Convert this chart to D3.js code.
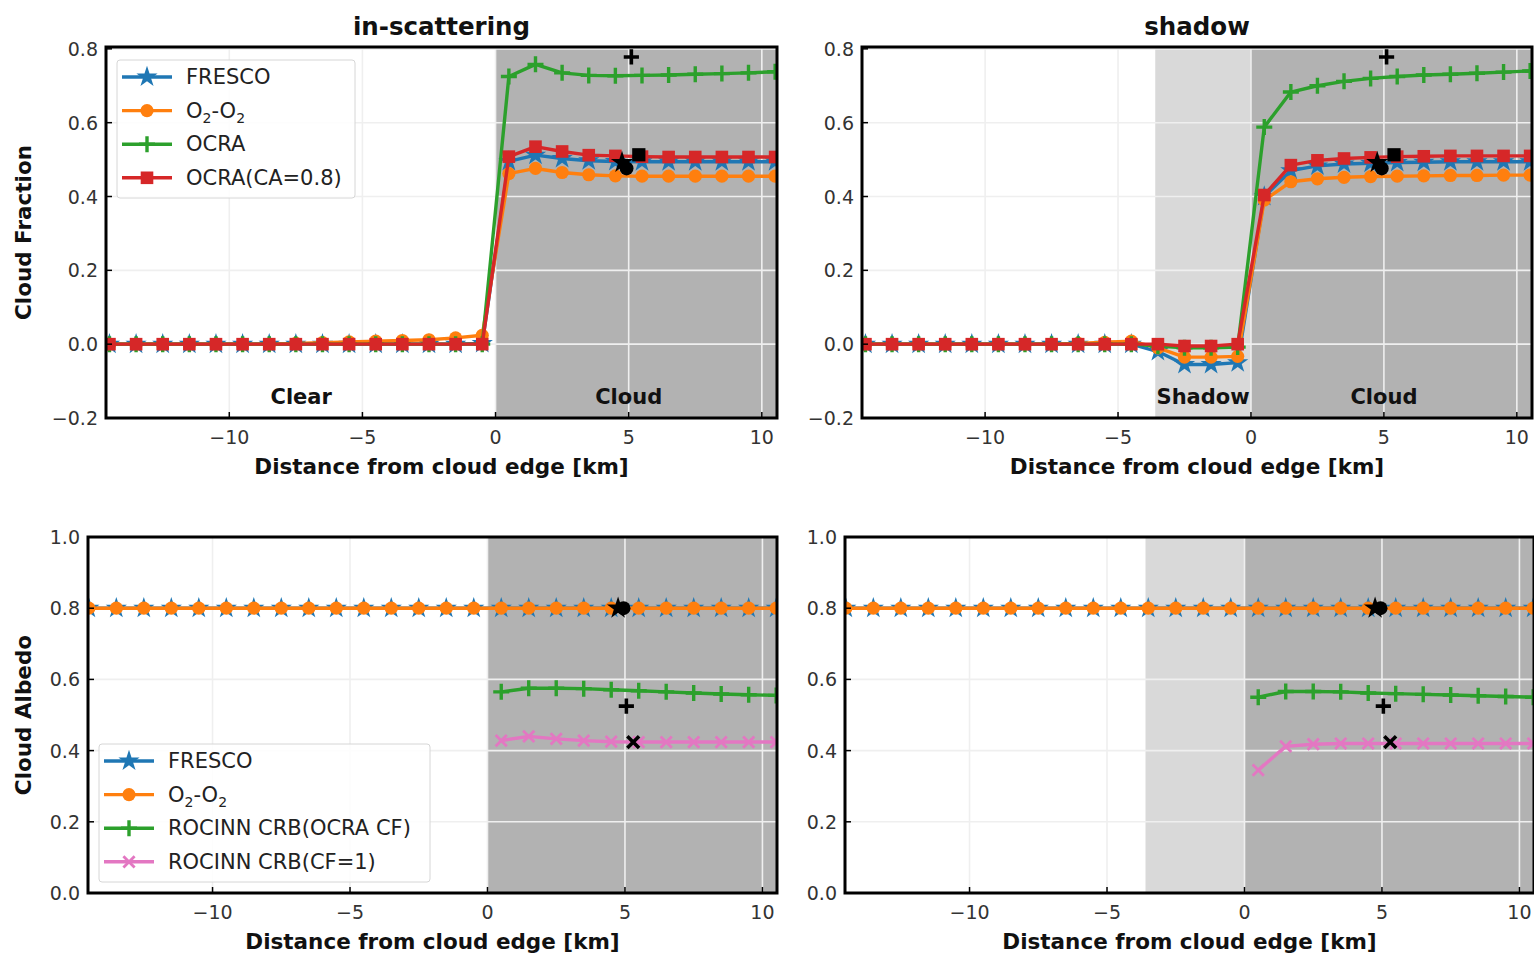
<!DOCTYPE html>
<html>
<head>
<meta charset="utf-8">
<script src="https://cdn.jsdelivr.net/npm/d3@7"></script>
<style>
  body { margin: 0; background: #fff; }
  svg { display: block; }
  text { font-family: "DejaVu Sans", "Liberation Sans", sans-serif; }
</style>
</head>
<body>
<svg id="fig" width="1534" height="953"></svg>
<script>
// ---- along-track sample positions (km from the cloud edge) ----
const distanceKm = [-14.5, -13.5, -12.5, -11.5, -10.5, -9.5, -8.5, -7.5, -6.5, -5.5, -4.5, -3.5, -2.5, -1.5, -0.5,
                    0.5, 1.5, 2.5, 3.5, 4.5, 5.5, 6.5, 7.5, 8.5, 9.5, 10.5];

const xTicks = [-10, -5, 0, 5, 10];
const cfTicks = [-0.2, 0.0, 0.2, 0.4, 0.6, 0.8];
const caTicks = [0.0, 0.2, 0.4, 0.6, 0.8, 1.0];

// region boundaries (km)
const cloudEdgeKm = 0;
const shadowStartKm = -3.6;

// ---- cloud fraction, in-scattering case ----
const frescoCfIn = [0, 0, 0, 0, 0, 0, 0, 0, 0, 0, 0, 0, 0, 0, 0.002,
                    0.495, 0.512, 0.503, 0.497, 0.495, 0.494, 0.494, 0.494, 0.494, 0.494, 0.494];
const o2o2CfIn   = [0, 0, 0, 0, 0, 0, 0, 0.002, 0.004, 0.006, 0.008, 0.01, 0.012, 0.017, 0.024,
                    0.462, 0.476, 0.465, 0.459, 0.456, 0.455, 0.455, 0.455, 0.455, 0.455, 0.455];
const ocraCfIn   = [0, 0, 0, 0, 0, 0, 0, 0, 0, 0, 0, 0, 0, 0, 0,
                    0.725, 0.758, 0.735, 0.728, 0.727, 0.728, 0.729, 0.731, 0.733, 0.735, 0.738];
const ocraCaCfIn = [0, 0, 0, 0, 0, 0, 0, 0, 0, 0, 0, 0, 0, 0, 0,
                    0.508, 0.535, 0.522, 0.512, 0.510, 0.508, 0.507, 0.507, 0.507, 0.507, 0.507];

// ---- cloud fraction, shadow case ----
const frescoCfSh = [0, 0, 0, 0, 0, 0, 0, 0, 0, 0, 0, -0.02, -0.055, -0.055, -0.05,
                    0.40, 0.47, 0.483, 0.488, 0.490, 0.492, 0.493, 0.494, 0.494, 0.494, 0.494];
const o2o2CfSh   = [0, 0, 0, 0, 0, 0, 0, 0, 0.002, 0.005, 0.008, -0.01, -0.035, -0.035, -0.033,
                    0.39, 0.44, 0.448, 0.452, 0.454, 0.455, 0.456, 0.457, 0.457, 0.458, 0.458];
const ocraCfSh   = [0, 0, 0, 0, 0, 0, 0, 0, 0, 0, 0, -0.005, -0.01, -0.01, -0.008,
                    0.588, 0.683, 0.700, 0.712, 0.720, 0.725, 0.729, 0.731, 0.734, 0.737, 0.740];
const ocraCaCfSh = [0, 0, 0, 0, 0, 0, 0, 0, 0, 0, 0, 0, -0.005, -0.005, 0,
                    0.404, 0.485, 0.498, 0.503, 0.506, 0.508, 0.509, 0.510, 0.510, 0.510, 0.510];

// ---- cloud albedo (FRESCO and O2-O2 share the fixed 0.8) ----
const frescoCa = [0.8, 0.8, 0.8, 0.8, 0.8, 0.8, 0.8, 0.8, 0.8, 0.8, 0.8, 0.8, 0.8, 0.8, 0.8,
                  0.8, 0.8, 0.8, 0.8, 0.8, 0.8, 0.8, 0.8, 0.8, 0.8, 0.8];
const o2o2Ca   = [0.8, 0.8, 0.8, 0.8, 0.8, 0.8, 0.8, 0.8, 0.8, 0.8, 0.8, 0.8, 0.8, 0.8, 0.8,
                  0.8, 0.8, 0.8, 0.8, 0.8, 0.8, 0.8, 0.8, 0.8, 0.8, 0.8];
const rocinnOcraCaIn = [null, null, null, null, null, null, null, null, null, null, null, null, null, null, null,
                        0.565, 0.575, 0.575, 0.574, 0.571, 0.568, 0.565, 0.562, 0.559, 0.557, 0.555];
const rocinnCf1CaIn  = [null, null, null, null, null, null, null, null, null, null, null, null, null, null, null,
                        0.428, 0.440, 0.433, 0.428, 0.425, 0.424, 0.424, 0.424, 0.424, 0.424, 0.424];
const rocinnOcraCaSh = [null, null, null, null, null, null, null, null, null, null, null, null, null, null, null,
                        0.550, 0.566, 0.566, 0.565, 0.562, 0.560, 0.558, 0.556, 0.554, 0.552, 0.550];
const rocinnCf1CaSh  = [null, null, null, null, null, null, null, null, null, null, null, null, null, null, null,
                        0.345, 0.412, 0.418, 0.420, 0.420, 0.420, 0.420, 0.420, 0.420, 0.420, 0.420];

// ---- reference (true) values, drawn in black ----
const refCf = [
  { marker: "plus",   x: 5.1,  y: 0.778 },
  { marker: "square", x: 5.38, y: 0.513 },
  { marker: "star",   x: 4.75, y: 0.492 },
  { marker: "circle", x: 4.92, y: 0.476 }
];
const refCa = [
  { marker: "star",   x: 4.75, y: 0.8 },
  { marker: "circle", x: 4.95, y: 0.8 },
  { marker: "plus",   x: 5.05, y: 0.525 },
  { marker: "cross",  x: 5.3,  y: 0.424 }
];

const colors = { fresco: "#1f77b4", o2o2: "#ff7f0e", ocra: "#2ca02c", ocraCa: "#d62728", rocinnCf1: "#e377c2" };
const cloudFill = "#b2b2b2";
const shadowFill = "#d9d9d9";
const gridColor = "#efefef";

const svg = d3.select("#fig");

// marker painter
function drawMarker(g, type, color, scale = 1, extra = {}) {
  const s = scale;
  if (type === "star") {
    g.append("path").attr("d", d3.symbol(d3.symbolStar, 140 * s * s)()).attr("fill", color);
  } else if (type === "circle") {
    g.append("circle").attr("r", 6.6 * s).attr("fill", color);
  } else if (type === "square") {
    g.append("rect").attr("x", -6.3 * s).attr("y", -6.3 * s).attr("width", 12.6 * s).attr("height", 12.6 * s).attr("fill", color);
  } else if (type === "plus") {
    const r = 8 * s;
    g.append("path").attr("d", `M${-r},0H${r}M0,${-r}V${r}`).attr("stroke", color).attr("stroke-width", extra.sw || 3.4).attr("fill", "none");
  } else if (type === "cross") {
    const r = 5.6 * s;
    g.append("path").attr("d", `M${-r},${-r}L${r},${r}M${-r},${r}L${r},${-r}`).attr("stroke", color).attr("stroke-width", extra.sw || 2.8).attr("fill", "none");
  }
}

// label with subscripts for O2-O2
function setLabel(textSel, label) {
  if (label === "O2-O2") {
    textSel.append("tspan").text("O");
    textSel.append("tspan").text("2").attr("font-size", "14px").attr("dy", 5);
    textSel.append("tspan").text("-O").attr("dy", -5);
    textSel.append("tspan").text("2").attr("font-size", "14px").attr("dy", 5);
  } else {
    textSel.text(label);
  }
}

let clipId = 0;
function panel(cfg) {
  const x = d3.scaleLinear().domain(cfg.xDomain).range([cfg.left, cfg.right]);
  const y = d3.scaleLinear().domain(cfg.yDomain).range([cfg.bottom, cfg.top]);
  const g = svg.append("g");
  const id = "clip" + (clipId++);
  g.append("clipPath").attr("id", id).append("rect")
    .attr("x", cfg.left).attr("y", cfg.top).attr("width", cfg.right - cfg.left).attr("height", cfg.bottom - cfg.top);

  const plot = g.append("g").attr("clip-path", `url(#${id})`);
  // shaded regions
  if (cfg.shadow) {
    plot.append("rect").attr("x", x(shadowStartKm)).attr("y", cfg.top)
      .attr("width", x(cloudEdgeKm) - x(shadowStartKm)).attr("height", cfg.bottom - cfg.top).attr("fill", shadowFill);
  }
  plot.append("rect").attr("x", x(cloudEdgeKm)).attr("y", cfg.top)
    .attr("width", cfg.right - x(cloudEdgeKm)).attr("height", cfg.bottom - cfg.top).attr("fill", cloudFill);

  // grid
  plot.selectAll(".gx").data(xTicks).join("line")
    .attr("x1", d => x(d)).attr("x2", d => x(d)).attr("y1", cfg.top).attr("y2", cfg.bottom)
    .attr("stroke", gridColor).attr("stroke-width", 1.6);
  plot.selectAll(".gy").data(cfg.yTicks).join("line")
    .attr("y1", d => y(d)).attr("y2", d => y(d)).attr("x1", cfg.left).attr("x2", cfg.right)
    .attr("stroke", gridColor).attr("stroke-width", 1.6);

  // series
  const line = d3.line().defined(d => d[1] !== null).x(d => x(d[0])).y(d => y(d[1]));
  cfg.series.forEach(s => {
    const pts = distanceKm.map((k, i) => [k, s.values[i]]);
    plot.append("path").datum(pts).attr("d", line).attr("fill", "none")
      .attr("stroke", s.color).attr("stroke-width", 3.4).attr("stroke-linejoin", "round");
    pts.filter(p => p[1] !== null).forEach(p => {
      const m = plot.append("g").attr("transform", `translate(${x(p[0])},${y(p[1])})`);
      drawMarker(m, s.marker, s.color);
    });
  });

  // reference markers
  cfg.refs.forEach(r => {
    const m = plot.append("g").attr("transform", `translate(${x(r.x)},${y(r.y)})`);
    drawMarker(m, r.marker, "#000", r.marker === "plus" ? 0.95 : 1.05, { sw: 3.6 });
  });

  // region annotations
  (cfg.notes || []).forEach(n => {
    g.append("text").attr("x", x(n.x)).attr("y", cfg.bottom - 14).attr("text-anchor", "middle")
      .attr("font-size", "21px").attr("font-weight", "bold").attr("fill", "#111").text(n.text);
  });

  // ticks (inward) and labels
  xTicks.forEach(t => {
    g.append("line").attr("x1", x(t)).attr("x2", x(t)).attr("y1", cfg.bottom).attr("y2", cfg.bottom - 6)
      .attr("stroke", "#000").attr("stroke-width", 1.5);
    g.append("text").attr("x", x(t)).attr("y", cfg.bottom + 26).attr("text-anchor", "middle")
      .attr("font-size", "19px").attr("fill", "#333").text(d3.format("d")(t));
  });
  const fmt = d3.format(".1f");
  cfg.yTicks.forEach(t => {
    g.append("line").attr("x1", cfg.left).attr("x2", cfg.left + 6).attr("y1", y(t)).attr("y2", y(t))
      .attr("stroke", "#000").attr("stroke-width", 1.5);
    g.append("text").attr("x", cfg.left - 8).attr("y", y(t) + 7).attr("text-anchor", "end")
      .attr("font-size", "19px").attr("fill", "#333").text(fmt(t));
  });

  // frame
  g.append("rect").attr("x", cfg.left).attr("y", cfg.top).attr("width", cfg.right - cfg.left)
    .attr("height", cfg.bottom - cfg.top).attr("fill", "none").attr("stroke", "#000").attr("stroke-width", 3);

  // titles
  const cx = (cfg.left + cfg.right) / 2;
  if (cfg.title) {
    g.append("text").attr("x", cx).attr("y", cfg.top - 12).attr("text-anchor", "middle")
      .attr("font-size", "24.5px").attr("font-weight", "bold").attr("fill", "#111").text(cfg.title);
  }
  g.append("text").attr("x", cx).attr("y", cfg.bottom + 56).attr("text-anchor", "middle")
    .attr("font-size", "21.5px").attr("font-weight", "bold").attr("fill", "#111").text("Distance from cloud edge [km]");
  if (cfg.ylabel) {
    g.append("text").attr("transform", `translate(${31},${(cfg.top + cfg.bottom) / 2}) rotate(-90)`)
      .attr("text-anchor", "middle").attr("font-size", "21.5px").attr("font-weight", "bold").attr("fill", "#111").text(cfg.ylabel);
  }

  // legend
  if (cfg.legend) {
    const L = cfg.legend;
    g.append("rect").attr("x", L.x).attr("y", L.y).attr("width", L.w).attr("height", L.h).attr("rx", 3)
      .attr("fill", "rgba(255,255,255,0.85)").attr("stroke", "#d6d6d6").attr("stroke-width", 1);
    cfg.series.forEach((s, i) => {
      const yy = L.y + 17 + i * 33.6;
      g.append("line").attr("x1", L.x + 5).attr("x2", L.x + 55).attr("y1", yy).attr("y2", yy)
        .attr("stroke", s.color).attr("stroke-width", 3.4);
      const m = g.append("g").attr("transform", `translate(${L.x + 30},${yy})`);
      drawMarker(m, s.marker, s.color);
      const t = g.append("text").attr("x", L.x + 69).attr("y", yy + 7).attr("font-size", "21px").attr("fill", "#222");
      setLabel(t, s.label);
    });
  }
}

const topXDomain = [-14.63, 10.57];
const botXDomain = [-14.53, 10.53];

panel({
  left: 106, right: 777, top: 47, bottom: 418, xDomain: topXDomain, yDomain: [-0.2, 0.805], yTicks: cfTicks,
  title: "in-scattering", ylabel: "Cloud Fraction", shadow: false,
  series: [
    { label: "FRESCO", values: frescoCfIn, color: colors.fresco, marker: "star" },
    { label: "O2-O2", values: o2o2CfIn, color: colors.o2o2, marker: "circle" },
    { label: "OCRA", values: ocraCfIn, color: colors.ocra, marker: "plus" },
    { label: "OCRA(CA=0.8)", values: ocraCaCfIn, color: colors.ocraCa, marker: "square" }
  ],
  refs: refCf,
  notes: [{ x: -7.3, text: "Clear" }, { x: 5.0, text: "Cloud" }],
  legend: { x: 117, y: 60, w: 238, h: 138 }
});

panel({
  left: 862, right: 1532, top: 47, bottom: 418, xDomain: topXDomain, yDomain: [-0.2, 0.805], yTicks: cfTicks,
  title: "shadow", shadow: true,
  series: [
    { label: "FRESCO", values: frescoCfSh, color: colors.fresco, marker: "star" },
    { label: "O2-O2", values: o2o2CfSh, color: colors.o2o2, marker: "circle" },
    { label: "OCRA", values: ocraCfSh, color: colors.ocra, marker: "plus" },
    { label: "OCRA(CA=0.8)", values: ocraCaCfSh, color: colors.ocraCa, marker: "square" }
  ],
  refs: refCf,
  notes: [{ x: -1.8, text: "Shadow" }, { x: 5.0, text: "Cloud" }]
});

panel({
  left: 88, right: 777, top: 537, bottom: 893, xDomain: botXDomain, yDomain: [0, 1.0], yTicks: caTicks,
  ylabel: "Cloud Albedo", shadow: false,
  series: [
    { label: "FRESCO", values: frescoCa, color: colors.fresco, marker: "star" },
    { label: "O2-O2", values: o2o2Ca, color: colors.o2o2, marker: "circle" },
    { label: "ROCINN CRB(OCRA CF)", values: rocinnOcraCaIn, color: colors.ocra, marker: "plus" },
    { label: "ROCINN CRB(CF=1)", values: rocinnCf1CaIn, color: colors.rocinnCf1, marker: "cross" }
  ],
  refs: refCa,
  legend: { x: 99, y: 744, w: 331, h: 138 }
});

panel({
  left: 845, right: 1534, top: 537, bottom: 893, xDomain: botXDomain, yDomain: [0, 1.0], yTicks: caTicks,
  shadow: true,
  series: [
    { label: "FRESCO", values: frescoCa, color: colors.fresco, marker: "star" },
    { label: "O2-O2", values: o2o2Ca, color: colors.o2o2, marker: "circle" },
    { label: "ROCINN CRB(OCRA CF)", values: rocinnOcraCaSh, color: colors.ocra, marker: "plus" },
    { label: "ROCINN CRB(CF=1)", values: rocinnCf1CaSh, color: colors.rocinnCf1, marker: "cross" }
  ],
  refs: refCa
});
</script>
</body>
</html>
